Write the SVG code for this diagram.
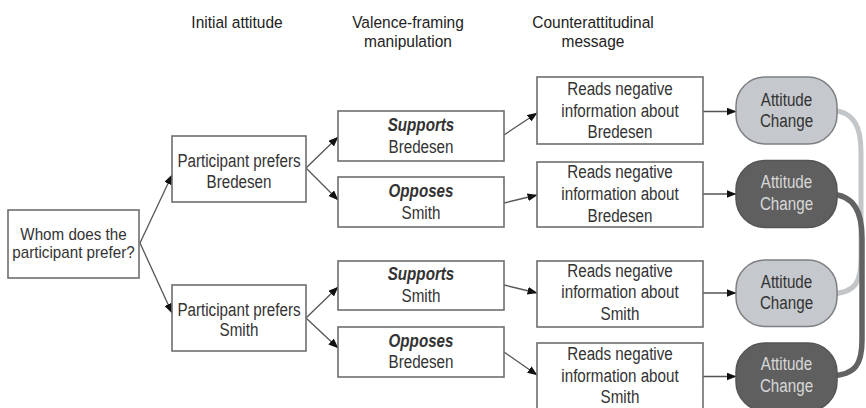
<svg xmlns="http://www.w3.org/2000/svg" width="866" height="408" viewBox="0 0 866 408">
<defs>
<marker id="ah" markerUnits="userSpaceOnUse" markerWidth="10" markerHeight="8" refX="9.5" refY="4" orient="auto">
<path d="M0,0 L10,4 L0,8 z" fill="#111"/>
</marker>
<style>
.box{fill:#fff;stroke:#6e6e6e;stroke-width:1.6}
.acl{fill:#c5c8cc;stroke:#7d7f82;stroke-width:1.5}
.acd{fill:#5f5f5f;stroke:#555;stroke-width:1.5}
.t{font-family:"Liberation Sans",Arial,sans-serif;font-size:19px;fill:#333;text-anchor:middle}
.s{font-size:16px}
.h{font-family:"Liberation Sans",Arial,sans-serif;font-size:16.5px;fill:#222;text-anchor:middle}
.bi{font-weight:bold;font-style:italic}
.tl{fill:#d8d8d8}
.ln{stroke:#555;stroke-width:1.3;fill:none;marker-end:url(#ah)}
.cl{stroke:#c3c6c9;stroke-width:5;fill:none}
.cd{stroke:#626262;stroke-width:5.5;fill:none}
</style>
</defs>
<rect width="866" height="408" fill="#fff"/>

<g id="headers">
<text class="h" transform="translate(237 28) scale(0.94 1)">Initial attitude</text>
<text class="h" transform="translate(408 27.5) scale(0.94 1)">Valence-framing</text>
<text class="h" transform="translate(408 46.5) scale(0.94 1)">manipulation</text>
<text class="h" transform="translate(593 27.5) scale(0.94 1)">Counterattitudinal</text>
<text class="h" transform="translate(593 46.5) scale(0.94 1)">message</text>
</g>

<g id="connectors">
<line class="ln" x1="140" y1="243" x2="172" y2="175"/>
<line class="ln" x1="140" y1="243" x2="172" y2="313"/>
<line class="ln" x1="306" y1="168" x2="338" y2="137"/>
<line class="ln" x1="306" y1="168" x2="338" y2="200"/>
<line class="ln" x1="306" y1="318" x2="338" y2="287"/>
<line class="ln" x1="306" y1="318" x2="338" y2="348"/>
<line class="ln" x1="504" y1="135" x2="537" y2="113"/>
<line class="ln" x1="504" y1="203" x2="537" y2="195"/>
<line class="ln" x1="504" y1="285" x2="537" y2="293"/>
<line class="ln" x1="504" y1="352" x2="537" y2="375"/>
<line class="ln" x1="703" y1="111.5" x2="736" y2="111.5"/>
<line class="ln" x1="703" y1="194" x2="736" y2="194"/>
<line class="ln" x1="703" y1="293" x2="736" y2="293"/>
<line class="ln" x1="703" y1="376.5" x2="736" y2="376.5"/>
<path class="cl" d="M830 110 C855 111 861 128 861 152 L861 258 C861 282 856 293 830 294"/>
<path class="cd" d="M830 194 C855 195 862 213 862 238 L862 340 C862 364 856 375 830 376"/>
</g>

<g id="n-whom">
<rect class="box" x="8" y="210" width="131" height="68"/>
<text class="t s" transform="translate(73.5 239.5) scale(0.95 1)">Whom does the</text>
<text class="t s" transform="translate(73.5 257.5) scale(0.95 1)">participant prefer?</text>
</g>
<g id="n-prefB">
<rect class="box" x="172" y="136" width="134" height="66"/>
<text class="t" transform="translate(239 166.5) scale(0.8 1)">Participant prefers</text>
<text class="t" transform="translate(239 188) scale(0.8 1)">Bredesen</text>
</g>
<g id="n-prefS">
<rect class="box" x="172" y="285" width="134" height="66"/>
<text class="t" transform="translate(239 315.5) scale(0.8 1)">Participant prefers</text>
<text class="t" transform="translate(239 336) scale(0.8 1)">Smith</text>
</g>
<g id="n-supB">
<rect class="box" x="338" y="111" width="166" height="50"/>
<text class="t bi" transform="translate(421 131) scale(0.8 1)">Supports</text>
<text class="t" transform="translate(421 152.5) scale(0.8 1)">Bredesen</text>
</g>
<g id="n-oppS">
<rect class="box" x="338" y="177" width="166" height="50"/>
<text class="t bi" transform="translate(421 197) scale(0.8 1)">Opposes</text>
<text class="t" transform="translate(421 218.5) scale(0.8 1)">Smith</text>
</g>
<g id="n-supS">
<rect class="box" x="338" y="261" width="166" height="49"/>
<text class="t bi" transform="translate(421 280) scale(0.8 1)">Supports</text>
<text class="t" transform="translate(421 301.5) scale(0.8 1)">Smith</text>
</g>
<g id="n-oppB">
<rect class="box" x="338" y="327" width="166" height="50"/>
<text class="t bi" transform="translate(421 346.5) scale(0.8 1)">Opposes</text>
<text class="t" transform="translate(421 367.5) scale(0.8 1)">Bredesen</text>
</g>
<g id="n-read1">
<rect class="box" x="537" y="77" width="166" height="67"/>
<text class="t" transform="translate(620 95) scale(0.8 1)">Reads negative</text>
<text class="t" transform="translate(620 116.7) scale(0.8 1)">information about</text>
<text class="t" transform="translate(620 138.3) scale(0.8 1)">Bredesen</text>
</g>
<g id="n-read2">
<rect class="box" x="537" y="162" width="166" height="65"/>
<text class="t" transform="translate(620 178.3) scale(0.8 1)">Reads negative</text>
<text class="t" transform="translate(620 200) scale(0.8 1)">information about</text>
<text class="t" transform="translate(620 221.7) scale(0.8 1)">Bredesen</text>
</g>
<g id="n-read3">
<rect class="box" x="537" y="261" width="166" height="66"/>
<text class="t" transform="translate(620 276.7) scale(0.8 1)">Reads negative</text>
<text class="t" transform="translate(620 298.3) scale(0.8 1)">information about</text>
<text class="t" transform="translate(620 320) scale(0.8 1)">Smith</text>
</g>
<g id="n-read4">
<rect class="box" x="537" y="343" width="166" height="68"/>
<text class="t" transform="translate(620 360) scale(0.8 1)">Reads negative</text>
<text class="t" transform="translate(620 381.7) scale(0.8 1)">information about</text>
<text class="t" transform="translate(620 403.3) scale(0.8 1)">Smith</text>
</g>
<g id="n-ac1">
<rect class="acl" x="736" y="77" width="101" height="67" rx="29" ry="29"/>
<text class="t" transform="translate(786.5 106) scale(0.8 1)">Attitude</text>
<text class="t" transform="translate(786.5 126.5) scale(0.8 1)">Change</text>
</g>
<g id="n-ac2">
<rect class="acd" x="736" y="160.5" width="101" height="67" rx="29" ry="29"/>
<text class="t tl" transform="translate(786.5 188.3) scale(0.8 1)">Attitude</text>
<text class="t tl" transform="translate(786.5 210) scale(0.8 1)">Change</text>
</g>
<g id="n-ac3">
<rect class="acl" x="736" y="260" width="101" height="66.5" rx="29" ry="29"/>
<text class="t" transform="translate(786.5 288.3) scale(0.8 1)">Attitude</text>
<text class="t" transform="translate(786.5 309.3) scale(0.8 1)">Change</text>
</g>
<g id="n-ac4">
<rect class="acd" x="736" y="343" width="101" height="68" rx="29" ry="29"/>
<text class="t tl" transform="translate(786.5 370) scale(0.8 1)">Attitude</text>
<text class="t tl" transform="translate(786.5 391.5) scale(0.8 1)">Change</text>
</g>
</svg>
